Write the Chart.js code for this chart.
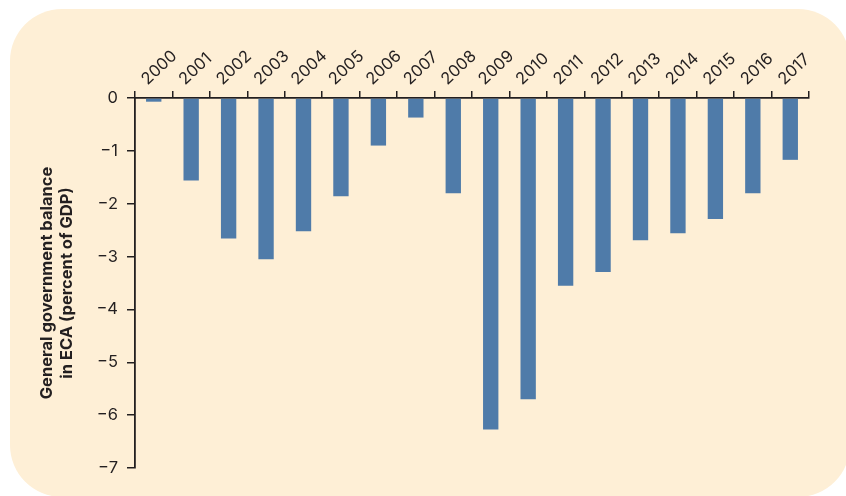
<!DOCTYPE html>
<html>
<head>
<meta charset="utf-8">
<script src="https://cdn.jsdelivr.net/npm/chart.js@4/dist/chart.umd.min.js"></script>
<style>
    html, body { margin: 0; padding: 0; background: #ffffff; }
    #wrap { position: relative; width: 846px; height: 496px; overflow: hidden; }
    #panel {
        position: absolute; left: 10px; top: 9px; width: 840px; height: 488px;
        background: #feefd6; border-radius: 52px;
    }
    #graph_balance { position: absolute; left: 0; top: 0; }
</style>
</head>
<body>
<div id="wrap">
    <div id="panel"></div>
    <canvas id="graph_balance" width="846" height="496"></canvas>
</div>
<script>
    // 연도별 일반정부 재정수지 (GDP 대비 %)
    var years = ['2000', '2001', '2002', '2003', '2004', '2005', '2006', '2007', '2008',
        '2009', '2010', '2011', '2012', '2013', '2014', '2015', '2016', '2017'];
    var balance = [-0.07, -1.56, -2.66, -3.05, -2.52, -1.86, -0.9, -0.37, -1.8,
        -6.27, -5.7, -3.55, -3.29, -2.69, -2.56, -2.29, -1.8, -1.17];
    var yTicks = [0, -1, -2, -3, -4, -5, -6, -7];
    var yTitle = ['General government balance', 'in ECA (percent of GDP)'];

    var INK = '#231f20';
    var FONT = 'Inter';

    function initChart() {
        var data = {
            labels: years,
            datasets: [{
                data: balance,
                backgroundColor: '#4f7ba9',
                borderWidth: 0,
                categoryPercentage: 1.0,
                barPercentage: 0.41
            }]
        };

        var options = {
            responsive: false,
            animation: false,
            layout: {
                padding: { left: 0, top: 0, right: 37, bottom: 28 }
            },
            plugins: {
                legend: { display: false },
                tooltip: { enabled: false }
            },
            scales: {
                x: {
                    position: 'top',
                    offset: true,
                    afterFit: function (scale) {
                        scale.height = 98;
                    },
                    grid: {
                        offset: true,
                        drawOnChartArea: false,
                        drawTicks: true,
                        tickLength: 7,
                        color: INK,
                        lineWidth: 1.5
                    },
                    border: { display: true, color: INK, width: 1.8 },
                    ticks: {
                        minRotation: 43,
                        maxRotation: 43,
                        padding: 2,
                        labelOffset: 4,
                        color: INK,
                        font: { family: FONT, size: 16.5 }
                    }
                },
                y: {
                    min: -7,
                    max: 0,
                    afterFit: function (scale) {
                        scale.width = 135;
                    },
                    afterBuildTicks: function (scale) {
                        scale.ticks = yTicks.map(function (v) { return { value: v }; });
                    },
                    grid: {
                        drawOnChartArea: false,
                        drawTicks: true,
                        tickLength: 8,
                        color: INK,
                        lineWidth: 1.5
                    },
                    border: { display: true, color: INK, width: 1.8 },
                    ticks: {
                        padding: 9,
                        color: INK,
                        font: { family: FONT, size: 16.5 },
                        callback: function (value) {
                            return value < 0 ? '\u2212' + Math.abs(value) : String(value);
                        }
                    },
                    title: {
                        display: true,
                        text: yTitle,
                        color: INK,
                        padding: { top: 37, bottom: 0 },
                        font: { family: FONT, size: 16.5, weight: 'bold', lineHeight: 1.21 }
                    }
                }
            }
        };

        var ctx = document.getElementById('graph_balance').getContext('2d');
        return new Chart(ctx, {
            type: 'bar',
            data: data,
            options: options
        });
    }

    // 폰트 로딩 후 그리기
    Promise.all([
        document.fonts.load('16.5px "' + FONT + '"'),
        document.fonts.load('bold 16.5px "' + FONT + '"')
    ]).then(initChart, initChart);
</script>
</body>
</html>
